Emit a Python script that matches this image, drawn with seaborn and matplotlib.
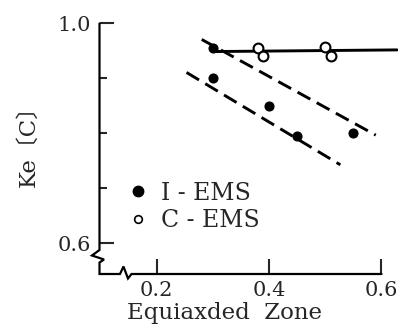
import numpy as np
import matplotlib
matplotlib.use('Agg')
import matplotlib.pyplot as plt
from matplotlib.lines import Line2D
import seaborn as sns

# veri
i_x = [0.30, 0.30, 0.40, 0.45, 0.55]
i_y = [0.955, 0.900, 0.850, 0.795, 0.800]
c_x = [0.38, 0.39, 0.50, 0.51]
c_y = [0.955, 0.940, 0.957, 0.941]

fit_c_x = [0.305, 0.628]
fit_c_y = [0.949, 0.952]
fit_hi_x = [0.28, 0.59]
fit_hi_y = [0.971, 0.797]
fit_lo_x = [0.253, 0.527]
fit_lo_y = [0.911, 0.743]

xticks = [0.2, 0.4, 0.6]
xticklabels = ['0.2', '0.4', '0.6']
yticks = [0.6, 1.0]
yticklabels = ['0.6', '1.0']
yminor = [0.7, 0.8, 0.9]

sns.set_style('white')
plt.rcParams['font.family'] = ['DejaVu Serif', 'Noto Sans CJK JP']

W, H = 407, 328
fig = plt.figure(figsize=(W / 100, H / 100), dpi=100)
ax = fig.add_axes([99.5 / W, 1 - 274 / H, 298.7 / W, 250.5 / H])
ax.set_xlim(0.098, 0.630)
ax.set_ylim(0.5445, 1.0)

# eğriler
sns.lineplot(x=fit_c_x, y=fit_c_y, ax=ax, color='black', lw=2.1)
sns.lineplot(x=fit_hi_x, y=fit_hi_y, ax=ax, color='black', lw=2.1, linestyle=(0, (5, 2.5)))
sns.lineplot(x=fit_lo_x, y=fit_lo_y, ax=ax, color='black', lw=2.1, linestyle=(0, (5, 2.5)))

# noktalar
sns.scatterplot(x=i_x, y=i_y, ax=ax, color='black', s=42, edgecolor='black', linewidth=0.8, zorder=5)
sns.scatterplot(x=c_x, y=c_y, ax=ax, facecolor='white', s=50, edgecolor='black', linewidth=1.5, zorder=6)

# eksenler (kırık eksen çizgisi)
for s in ax.spines.values():
    s.set_visible(False)

def px(x, y):
    return ((x - 99.5) / 298.7, (274 - y) / 250.5)

path = [(99.5, 23.5), (99.5, 250), (92, 255.5), (104, 259.5), (99.5, 262.5), (99.5, 274),
        (120, 274), (123.5, 266.5), (128, 278.5), (131.5, 274), (381.5, 274)]
pts = np.array([px(a, b) for a, b in path])
ax.plot(pts[:, 0], pts[:, 1], color='black', lw=1.6, transform=ax.transAxes, clip_on=False,
        solid_joinstyle='miter')

ax.set_xticks(xticks)
ax.set_xticklabels(xticklabels)
ax.set_yticks(yticks)
ax.set_yticklabels(yticklabels)
ax.set_yticks(yminor, minor=True)
ax.tick_params(axis='x', direction='in', length=11, width=1.5, pad=5, labelsize=15, bottom=True)
ax.tick_params(axis='y', which='major', direction='in', length=10, width=1.5, pad=6, labelsize=15, left=True)
ax.tick_params(axis='y', which='minor', direction='in', length=5, width=1.5, left=True)

ax.set_xlabel('Equiaxded  Zone', fontsize=16.5)
ax.xaxis.set_label_coords(0.417, -0.11)
ax.set_ylabel('Ke〔C〕', fontsize=16.5)
ax.yaxis.set_label_coords(-0.20, 0.533)

handles = [
    Line2D([], [], marker='o', ls='none', color='black', markersize=7.5),
    Line2D([], [], marker='o', ls='none', markerfacecolor='white', markeredgecolor='black',
           markeredgewidth=1.2, markersize=5.5),
]
ax.legend(handles, ['I - EMS', 'C - EMS'], frameon=False, fontsize=17, loc='center left',
          bbox_to_anchor=(0.1, 0.267), handlelength=0.7, handletextpad=0.65, labelspacing=0.2,
          borderpad=0, borderaxespad=0)

fig.savefig('out.png', dpi=100)
